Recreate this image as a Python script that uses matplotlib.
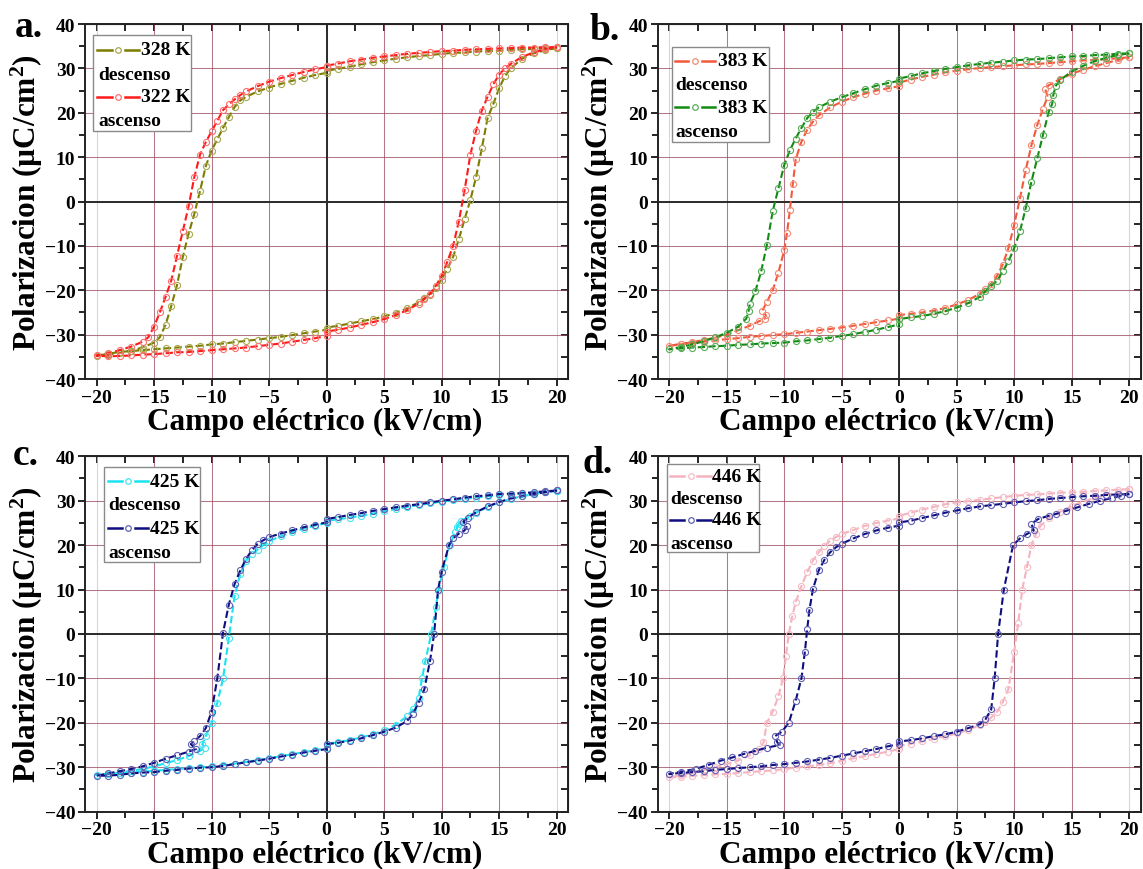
import numpy as np
import matplotlib
matplotlib.use("Agg")
import matplotlib.pyplot as plt
from matplotlib.lines import Line2D
from matplotlib.patches import Rectangle
from matplotlib.ticker import MultipleLocator

plt.rcParams['font.family'] = ['Liberation Serif', 'DejaVu Serif']
plt.rcParams['font.weight'] = 'bold'
plt.rcParams['mathtext.fontset'] = 'custom'
plt.rcParams['mathtext.rm'] = 'Liberation Serif:bold'
plt.rcParams['mathtext.it'] = 'Liberation Serif:bold'
plt.rcParams['mathtext.bf'] = 'Liberation Serif:bold'

# ---- panel a: 328 K (descenso) / 322 K (ascenso) ----
e328_up = [20, 19, 18, 17, 16, 15, 14, 13, 12, 11, 10, 9, 8, 7, 6, 5, 4, 3, 2, 1, 0, 0,
           -1, -2, -3, -4, -5, -6, -7, -7.5, -8, -8.5, -9, -9.5, -10, -10.5, -11, -11.5,
           -12, -12.5, -13, -13.5, -14, -14.5, -15, -16, -17, -18, -19, -20]
p328_up = [34.6, 34.5, 34.4, 34.3, 34.2, 34.0, 33.9, 33.8, 33.6, 33.5, 33.3, 33.0, 32.8,
           32.5, 32.2, 31.8, 31.4, 30.9, 30.4, 29.9, 29.5, 29.0, 28.5, 27.9, 27.2, 26.5,
           25.7, 24.8, 23.6, 22.8, 21.3, 19.0, 16.6, 14.0, 11.5, 8.0, 2.4, -2.8, -7.3,
           -12.5, -18.8, -23.5, -27.8, -30.6, -31.8, -32.9, -33.6, -34.1, -34.5, -34.8]
e328_dn = [-19, -18, -17, -16, -15, -14, -13, -12, -11, -10, -9, -8, -7, -6, -5, -4, -3,
           -2, -1, 0, 0, 1, 2, 3, 4, 5, 6, 7, 8, 8.5, 9, 9.5, 10, 10.5, 11, 11.5, 12, 12.5,
           13, 13.5, 14, 14.5, 15, 15.5, 16, 17, 18, 19, 20]
p328_dn = [-34.3, -33.9, -33.7, -33.5, -33.3, -33.1, -32.9, -32.7, -32.5, -32.2, -32.0,
           -31.7, -31.4, -31.1, -30.8, -30.5, -30.1, -29.7, -29.3, -28.9, -28.4, -28.0,
           -27.5, -27.0, -26.5, -25.9, -25.1, -24.1, -22.7, -21.8, -21.0, -19.5, -17.6,
           -15.2, -12.5, -8.5, -4.0, 0.3, 5.5, 12.0, 18.8, 22.0, 25.5, 28.2, 30.0, 32.2,
           33.4, 34.1, 34.6]

e322_up = [20, 19, 18, 17, 16, 15, 14, 13, 12, 11, 10, 9, 8, 7, 6, 5, 4, 3, 2, 1, 0, 0,
           -1, -2, -3, -4, -5, -6, -7, -7.5, -8, -8.5, -9, -9.5, -10, -10.5, -11, -11.5,
           -12, -12.5, -13, -13.5, -14, -14.5, -15, -15.5, -16, -17, -18, -19, -20]
p322_up = [34.8, 34.8, 34.7, 34.7, 34.6, 34.5, 34.4, 34.3, 34.2, 34.0, 33.9, 33.7, 33.5,
           33.3, 33.0, 32.7, 32.4, 32.0, 31.6, 31.1, 30.6, 30.3, 29.8, 29.2, 28.5, 27.8,
           27.0, 26.0, 24.8, 24.0, 23.0, 21.9, 20.6, 18.2, 15.8, 13.4, 10.6, 5.5, -1.1,
           -6.7, -12.2, -17.8, -21.5, -25.0, -28.2, -30.6, -31.6, -32.7, -33.5, -34.2, -34.7]
e322_dn = [-19, -18, -17, -16, -15, -14, -13, -12, -11, -10, -9, -8, -7, -6, -5, -4, -3,
           -2, -1, 0, 0, 1, 2, 3, 4, 5, 6, 7, 8, 8.5, 9, 9.5, 10, 10.5, 11, 11.5, 12, 12.5,
           13, 13.5, 14, 14.5, 15, 15.5, 16, 17, 18, 19, 20]
p322_dn = [-34.9, -34.8, -34.7, -34.5, -34.4, -34.2, -34.0, -33.9, -33.7, -33.5, -33.3,
           -33.1, -32.9, -32.6, -32.3, -32.0, -31.6, -31.2, -30.8, -30.3, -29.3, -28.9,
           -28.4, -27.8, -27.2, -26.5, -25.6, -24.5, -23.0, -22.0, -20.8, -19.0, -16.8,
           -13.6, -10.0, -4.5, 2.5, 10.5, 16.0, 20.5, 23.6, 26.4, 28.6, 30.0, 31.0, 32.6,
           33.6, 34.3, 34.8]

# ---- panel b: 383 K descenso / 383 K ascenso ----
e383d_up = [20, 19, 18, 17, 16, 15, 14, 13, 12, 11, 10, 9, 8, 7, 6, 5, 4, 3, 2, 1, 0, 0,
            -1, -2, -3, -4, -5, -6, -7, -7.5, -8, -8.5, -9, -9.25, -9.5, -9.75, -10, -10.5,
            -11, -11.5, -11.9, -11.6, -11.7, -12.2, -13, -14, -15, -16, -17, -18, -19, -20]
p383d_up = [32.5, 32.3, 32.1, 31.9, 31.8, 31.6, 31.4, 31.2, 31.0, 30.9, 30.7, 30.5, 30.3,
            30.1, 29.8, 29.5, 29.1, 28.6, 28.1, 27.5, 26.8, 26.0, 25.5, 25.0, 24.3, 23.5,
            22.5, 21.2, 19.4, 18.0, 16.2, 13.5, 9.5, 4.0, -1.8, -7.0, -11.0, -16.0, -20.0,
            -22.6, -24.6, -25.6, -26.4, -27.0, -28.0, -29.0, -30.0, -30.7, -31.2, -31.7,
            -32.1, -32.5]
e383d_dn = [-19, -18, -17, -16, -15, -14, -13, -12, -11, -10, -9, -8, -7, -6, -5, -4, -3,
            -2, -1, 0, 0, 1, 2, 3, 4, 5, 6, 7, 7.5, 8, 8.5, 9, 9.5, 10, 10.5, 11, 11.5, 12,
            12.5, 12.9, 12.7, 13.0, 14, 15, 16, 17, 18, 19, 20]
p383d_dn = [-32.2, -31.9, -31.6, -31.3, -31.0, -30.8, -30.5, -30.3, -30.1, -29.9, -29.6,
            -29.3, -29.0, -28.7, -28.4, -28.0, -27.6, -27.2, -26.8, -26.4, -25.6, -25.3,
            -25.0, -24.6, -24.0, -23.2, -22.2, -20.8, -19.8, -18.6, -16.8, -14.2, -10.5,
            -5.2, 0.7, 7.1, 12.7, 17.2, 20.9, 23.6, 25.4, 26.2, 27.6, 28.8, 29.7, 30.5,
            31.2, 31.9, 32.5]

e383a_up = [20, 19, 18, 17, 16, 15, 14, 13, 12, 11, 10, 9, 8, 7, 6, 5, 4, 3, 2, 1, 0, 0,
            -1, -2, -3, -4, -5, -6, -7, -7.5, -8, -8.5, -9, -9.5, -10, -10.5, -11, -11.5,
            -12, -12.5, -13, -13.1, -13.3, -14, -15, -16, -17, -18, -19, -20]
p383a_up = [33.4, 33.3, 33.1, 33.0, 32.8, 32.7, 32.5, 32.3, 32.1, 32.0, 31.8, 31.5, 31.3,
            31.0, 30.7, 30.3, 29.9, 29.4, 28.9, 28.3, 27.7, 27.2, 26.7, 26.1, 25.3, 24.4,
            23.5, 22.5, 21.2, 20.2, 18.8, 16.6, 14.2, 11.6, 8.2, 3.0, -2.2, -9.7, -15.7,
            -20.2, -23.2, -24.7, -26.4, -28.2, -29.6, -30.6, -31.5, -32.2, -32.8, -33.3]
e383a_dn = [-19, -18, -17, -16, -15, -14, -13, -12, -11, -10, -9, -8, -7, -6, -5, -4, -3,
            -2, -1, 0, 0, 1, 2, 3, 4, 5, 6, 7, 7.5, 8, 8.5, 9, 9.5, 10, 10.5, 11, 11.5, 12,
            12.5, 13, 13.3, 13.4, 13.6, 14, 15, 16, 17, 18, 19, 20]
p383a_dn = [-33.1, -32.9, -32.8, -32.6, -32.5, -32.3, -32.2, -32.0, -31.9, -31.8, -31.5,
            -31.3, -31.0, -30.7, -30.3, -29.9, -29.4, -28.9, -28.3, -27.7, -26.5, -26.1,
            -25.8, -25.3, -24.7, -23.9, -22.9, -21.5, -20.2, -19.0, -17.9, -15.7, -13.5,
            -10.5, -6.7, -1.5, 4.5, 9.7, 15.0, 20.2, 22.0, 24.0, 26.0, 27.4, 29.3, 30.6,
            31.6, 32.4, 33.0, 33.4]

# ---- panel c: 425 K descenso / 425 K ascenso ----
e425d_up = [20, 19, 18, 17, 16, 15, 14, 13, 12, 11, 10, 9, 8, 7, 6, 5, 4, 3, 2, 1, 0, 0,
            -1, -2, -3, -4, -5, -5.5, -6, -6.5, -7, -7.5, -8, -8.5, -9, -9.5, -10, -10.5,
            -10.8, -10.6, -11, -12, -13, -14, -15, -16, -17, -18, -19, -20]
p425d_up = [32.2, 32.0, 31.8, 31.6, 31.4, 31.2, 31.0, 30.7, 30.4, 30.1, 29.8, 29.4, 29.0,
            28.6, 28.1, 27.6, 27.1, 26.6, 26.2, 25.8, 25.5, 25.0, 24.4, 23.7, 22.9, 22.0,
            20.9, 20.0, 19.0, 17.9, 16.5, 13.5, 8.5, -0.9, -10.0, -15.5, -20.0, -23.0,
            -24.8, -25.6, -26.3, -27.5, -28.4, -29.1, -29.8, -30.4, -30.8, -31.2, -31.5, -31.8]
e425d_dn = [-19, -18, -17, -16, -15, -14, -13, -12, -11, -10, -9, -8, -7, -6, -5, -4, -3,
            -2, -1, 0, 0, 1, 2, 3, 4, 5, 6, 7, 7.5, 8, 8.3, 8.6, 9.1, 9.5, 9.75, 10.2, 10.7,
            11.2, 11.5, 11.3, 11.7, 12.5, 13, 14, 15, 16, 17, 18, 19, 20]
p425d_dn = [-31.6, -31.4, -31.2, -31.0, -30.8, -30.6, -30.4, -30.2, -30.0, -29.8, -29.5,
            -29.2, -28.8, -28.4, -28.0, -27.5, -27.1, -26.6, -26.2, -25.7, -24.7, -24.4,
            -23.9, -23.3, -22.6, -21.7, -20.5, -18.5, -17.0, -14.5, -10.0, -6.0, 0.0, 6.0,
            10.0, 15.0, 20.0, 23.0, 24.8, 24.0, 25.4, 26.6, 27.3, 28.6, 29.6, 30.4, 31.0,
            31.5, 31.9, 32.2]

e425a_up = [20, 19, 18, 17, 16, 15, 14, 13, 12, 11, 10, 9, 8, 7, 6, 5, 4, 3, 2, 1, 0, 0,
            -1, -2, -3, -4, -5, -5.5, -6, -6.5, -7, -7.5, -8, -8.5, -9, -9.5, -10, -10.5,
            -11, -11.5, -11.8, -11.35, -12, -13, -14, -15, -16, -17, -18, -19, -20]
p425a_up = [32.3, 32.1, 31.9, 31.7, 31.6, 31.5, 31.2, 31.0, 30.7, 30.3, 30.0, 29.6, 29.2,
            28.9, 28.5, 28.1, 27.7, 27.2, 26.8, 26.3, 25.9, 25.1, 24.6, 24.0, 23.3, 22.6,
            21.8, 21.1, 20.3, 18.8, 16.9, 14.3, 11.2, 6.6, 0.3, -10.0, -17.5, -21.2, -23.0,
            -24.1, -24.8, -25.9, -26.5, -27.3, -28.1, -29.0, -29.8, -30.4, -30.9, -31.4, -31.9]
e425a_dn = [-19, -18, -17, -16, -15, -14, -13, -12, -11, -10, -9, -8, -7, -6, -5, -4, -3,
            -2, -1, 0, 0, 1, 2, 3, 4, 5, 6, 7, 7.5, 8, 8.5, 9, 9.35, 9.7, 10, 10.65, 11, 11.5,
            12.0, 12.2, 11.9, 12.3, 13, 14, 15, 16, 17, 18, 19, 20]
p425a_dn = [-31.9, -31.7, -31.4, -31.2, -31.1, -30.8, -30.6, -30.3, -30.1, -30.0, -29.7,
            -29.3, -28.9, -28.5, -28.1, -27.6, -27.2, -26.7, -26.3, -25.9, -24.8, -24.5,
            -24.0, -23.5, -22.8, -22.0, -21.1, -19.6, -18.0, -15.5, -12.5, -6.0, 0.0, 10.0,
            14.0, 20.0, 21.5, 22.6, 23.3, 24.3, 25.3, 26.2, 27.4, 28.7, 29.7, 30.5, 31.0,
            31.5, 31.9, 32.3]

# ---- panel d: 446 K descenso / 446 K ascenso ----
e446d_up = [20, 19, 18, 17, 16, 15, 14, 13, 12, 11, 10, 9, 8, 7, 6, 5, 4, 3, 2, 1, 0, 0,
            -1, -2, -3, -4, -5, -5.5, -6, -6.5, -7, -7.5, -8, -8.5, -9, -9.3, -9.6, -9.85,
            -10.1, -10.5, -11, -11.5, -11.8, -12.2, -13, -14, -15, -16, -17, -18, -19, -20]
p446d_up = [32.6, 32.5, 32.3, 32.2, 32.0, 31.9, 31.8, 31.6, 31.4, 31.3, 31.1, 30.8, 30.5,
            30.2, 29.9, 29.6, 29.2, 28.6, 28.0, 27.3, 26.6, 26.0, 25.5, 25.0, 24.3, 23.4,
            22.5, 21.8, 21.0, 19.9, 18.4, 16.5, 13.9, 10.8, 7.1, 4.0, 0.0, -5.0, -10.0,
            -14.0, -17.5, -20.0, -24.4, -26.0, -27.3, -28.5, -29.3, -30.0, -30.6, -31.2,
            -31.8, -32.3]
e446d_dn = [-19, -18, -17, -16, -15, -14, -13, -12, -11, -10, -9, -8, -7, -6, -5, -4, -3,
            -2, -1, 0, 0, 1, 2, 3, 4, 5, 6, 7, 7.5, 8, 8.5, 9, 9.5, 10, 10.35, 10.7, 11.1,
            11.5, 11.9, 12.3, 13, 14, 15, 16, 17, 18, 19, 20]
p446d_dn = [-32.1, -31.9, -31.8, -31.6, -31.5, -31.3, -31.1, -30.9, -30.7, -30.4, -30.1,
            -29.8, -29.5, -29.1, -28.5, -28.0, -27.5, -27.0, -26.5, -25.9, -25.2, -24.7,
            -24.2, -23.6, -23.0, -22.4, -21.6, -20.5, -19.9, -18.8, -17.6, -15.4, -12.4,
            -4.0, 2.5, 10.0, 15.0, 20.0, 22.5, 24.4, 26.0, 27.5, 28.8, 29.8, 30.6, 31.3,
            31.9, 32.6]

e446a_up = [20, 19, 18, 17, 16, 15, 14, 13, 12, 11, 10, 9, 8, 7, 6, 5, 4, 3, 2, 1, 0, 0,
            -1, -2, -3, -4, -5, -5.5, -6, -6.5, -7, -7.5, -7.8, -8.0, -8.2, -8.5, -9, -9.6,
            -10.2, -10.8, -10.6, -10.4, -11.5, -12.5, -13.5, -14.5, -15.5, -16.5, -17.7,
            -19, -20]
p446a_up = [31.5, 31.4, 31.3, 31.1, 31.0, 30.8, 30.6, 30.4, 30.1, 29.9, 29.6, 29.3, 29.0,
            28.7, 28.3, 27.8, 27.3, 26.7, 26.1, 25.5, 25.1, 24.4, 23.9, 23.3, 22.5, 21.5,
            20.3, 19.5, 18.4, 16.7, 14.3, 10.1, 5.5, 1.1, -4.0, -10.0, -15.0, -20.0, -22.0,
            -23.0, -24.4, -25.0, -25.6, -26.3, -27.0, -27.8, -28.5, -29.4, -30.4, -31.0, -31.5]
e446a_dn = [-19, -18, -17, -16, -15, -14, -13, -12, -11, -10, -9, -8, -7, -6, -5, -4, -3,
            -2, -1, 0, 0, 1, 2, 3, 4, 5, 6, 7, 7.5, 8, 8.3, 8.6, 9.1, 9.9, 10.5, 11.1, 11.7,
            11.5, 12.1, 13, 13.6, 14.5, 15.5, 16.5, 17.5, 18.5, 19.3, 20]
p446a_dn = [-31.3, -31.1, -30.9, -30.6, -30.4, -30.2, -30.0, -29.8, -29.5, -29.3, -29.0,
            -28.7, -28.3, -27.9, -27.4, -26.9, -26.4, -25.9, -25.3, -24.8, -24.2, -23.9,
            -23.5, -23.0, -22.6, -22.0, -21.2, -20.3, -19.2, -17.0, -10.0, 0.0, 10.0, 20.0,
            21.5, 22.5, 23.3, 24.8, 25.9, 26.6, 27.0, 27.7, 28.5, 29.3, 30.0, 30.6, 31.1, 31.5]

# label, subtitle, line colour, marker colour, branch data
panels = [
    ('a.', [('328 K', 'descenso', '#7c7c00', '#a8a850', e328_up, p328_up, e328_dn, p328_dn),
            ('322 K', 'ascenso', '#ff1a1a', '#ff7070', e322_up, p322_up, e322_dn, p322_dn)]),
    ('b.', [('383 K', 'descenso', '#f2583a', '#f28a76', e383d_up, p383d_up, e383d_dn, p383d_dn),
            ('383 K', 'ascenso', '#138a13', '#58ad58', e383a_up, p383a_up, e383a_dn, p383a_dn)]),
    ('c.', [('425 K', 'descenso', '#19e3f0', '#45e4f0', e425d_up, p425d_up, e425d_dn, p425d_dn),
            ('425 K', 'ascenso', '#0d0d80', '#6060b4', e425a_up, p425a_up, e425a_dn, p425a_dn)]),
    ('d.', [('446 K', 'descenso', '#f5b3bf', '#f5bcc6', e446d_up, p446d_up, e446d_dn, p446d_dn),
            ('446 K', 'ascenso', '#0d0d80', '#6060b4', e446a_up, p446a_up, e446a_dn, p446a_dn)]),
]

# axes rectangles in figure fraction
rects = [(0.0744, 0.5632, 0.4226, 0.408), (0.5754, 0.5632, 0.4226, 0.408),
         (0.0744, 0.0659, 0.4226, 0.4085), (0.5754, 0.0659, 0.4226, 0.4085)]
# key box (x0, y0, x1, y1), row heights, handle span, text x, subtitle x
keys = [((0.016, 0.699, 0.219, 0.969), (0.928, 0.859, 0.795, 0.728), (0.0255, 0.1124), 0.116, 0.028),
        ((0.030, 0.668, 0.231, 0.934), (0.897, 0.829, 0.765, 0.697), (0.036, 0.119), 0.124, 0.037),
        ((0.039, 0.703, 0.238, 0.969), (0.930, 0.863, 0.798, 0.730), (0.048, 0.131), 0.134, 0.048),
        ((0.019, 0.732, 0.209, 0.978), (0.944, 0.880, 0.821, 0.755), (0.0255, 0.1105), 0.112, 0.027)]
letter_pos = [(0.013, 0.958), (0.516, 0.954), (0.011, 0.465), (0.510, 0.456)]


def draw_key(ax, series, key):
    (x0, y0, x1, y1), rows, (hx0, hx1), tx, sx = key
    ax.add_patch(Rectangle((x0, y0), x1 - x0, y1 - y0, transform=ax.transAxes,
                           fc='white', ec='#8a8a8a', lw=1.0, zorder=6))
    hm = 0.5 * (hx0 + hx1)
    gap = 0.014
    for i, s in enumerate(series):
        label, sub, lc, mc = s[:4]
        yr = rows[2 * i]
        for xa, xb in ((hx0, hm - gap), (hm + gap, hx1)):
            ax.add_line(Line2D([xa, xb], [yr, yr], transform=ax.transAxes, color=lc,
                               lw=1.8, zorder=7))
        ax.add_line(Line2D([hm], [yr], transform=ax.transAxes, ls='none', marker='o',
                           ms=4, mfc='none', mec=mc, mew=0.9, zorder=7))
        ax.text(tx, yr, label, transform=ax.transAxes, va='center', ha='left',
                fontsize=14, fontweight='bold', zorder=8)
        ax.text(sx, rows[2 * i + 1], sub, transform=ax.transAxes, va='center', ha='left',
                fontsize=14, fontweight='bold', zorder=8)


fig = plt.figure(figsize=(11.43, 8.70), dpi=100)

for (letter, series), rect, key, lp in zip(panels, rects, keys, letter_pos):
    ax = fig.add_axes(rect)
    ax.set_axisbelow(True)
    ax.set_xlim(-21, 21)
    ax.set_ylim(-40, 40)
    ax.xaxis.set_major_locator(MultipleLocator(5))
    ax.xaxis.set_minor_locator(MultipleLocator(2.5))
    ax.yaxis.set_major_locator(MultipleLocator(10))
    ax.yaxis.set_minor_locator(MultipleLocator(5))
    ax.grid(True, which='major', color='#9a4a5e', lw=0.75, alpha=0.75)
    for gl, loc in zip(ax.get_xgridlines(), ax.get_xticks()):
        if abs(loc) == 20:
            gl.set_color('#e7b9c4')
    ax.axhline(0, color='#2b2b2b', lw=1.4, zorder=1.5)
    ax.axvline(0, color='#2b2b2b', lw=1.4, zorder=1.5)

    for k, (label, sub, lc, mc, eu, pu, ed, pd) in enumerate(series):
        e = np.concatenate([eu, ed])
        p = np.concatenate([pu, pd])
        ax.plot(e, p, ls=(0, (3.5, 1.6)), lw=1.5, color=lc, zorder=2 + k)
        ax.plot(e, p, ls='none', marker='o', ms=4.4, mfc='none', mec=mc, mew=0.8,
                zorder=2.5 + k)

    ax.tick_params(which='both', direction='out', width=1.2, labelsize=14,
                   top=False, right=False, pad=2)
    ax.tick_params(which='major', length=5)
    ax.tick_params(which='minor', length=4)
    for t in ax.get_xticklabels() + ax.get_yticklabels():
        t.set_fontweight('bold')
    for sp in ax.spines.values():
        sp.set_linewidth(1.4)
        sp.set_color('#222222')

    top = ax.secondary_xaxis('top')
    top.xaxis.set_major_locator(MultipleLocator(5))
    top.xaxis.set_minor_locator(MultipleLocator(2.5))
    top.tick_params(which='both', direction='in', length=5, width=1.2, labeltop=False)
    right = ax.secondary_yaxis('right')
    right.yaxis.set_major_locator(MultipleLocator(10))
    right.yaxis.set_minor_locator(MultipleLocator(5))
    right.tick_params(which='both', direction='in', length=5, width=1.2, labelright=False)

    ax.set_xlabel('Campo eléctrico (kV/cm)', fontsize=22.5, fontweight='bold', labelpad=1)
    ax.xaxis.label.set_x(0.475)
    ax.set_ylabel('Polarizacion (µC/cm$^2$)', fontsize=22.5, fontweight='bold', labelpad=0)

    draw_key(ax, series, key)
    fig.text(lp[0], lp[1], letter, fontsize=27, fontweight='bold', ha='left',
             va='baseline')

fig.savefig('out.png', dpi=100)
